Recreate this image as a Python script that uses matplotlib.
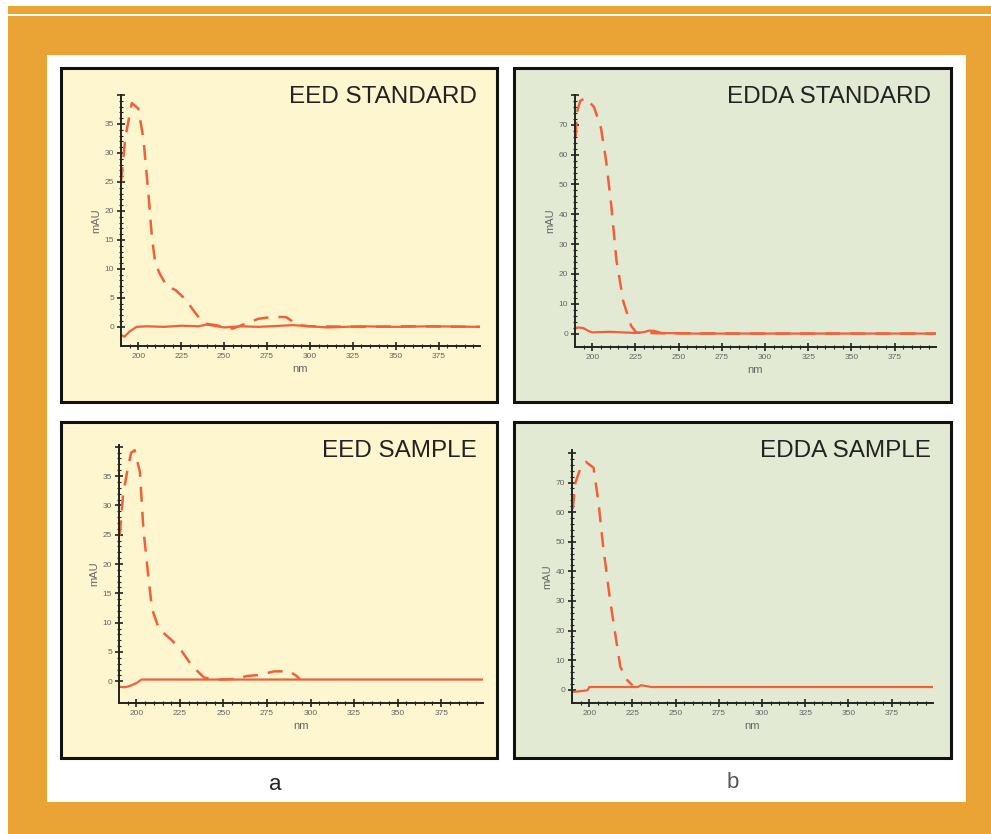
"""Four UV spectra panels (EED / EDDA, standard vs sample) on an orange frame."""

import matplotlib

matplotlib.use("Agg")
import matplotlib.pyplot as plt
from matplotlib.patches import Rectangle

plt.rcParams["font.family"] = ["Liberation Sans", "DejaVu Sans"]

W, H = 991, 834

# ---- data (nm, mAU) ----
eed_std_dash_x = [190, 192.5, 196.3, 200, 203, 206, 208, 210, 212.7, 216.5, 222, 228, 232, 238,
                  245, 255, 263, 270, 278, 286, 293, 300, 330, 360, 399]
eed_std_dash_y = [25, 32.6, 38.6, 37.7, 32.6, 22.9, 15.4, 10.9, 9.1, 7.1, 6.3, 4.6, 2.9, 0.6,
                  0.3, -0.3, 0.6, 1.4, 1.7, 1.7, 0.3, 0.1, 0.0, 0.1, 0.0]
eed_std_line_x = [190, 192, 195, 199, 205, 215, 225, 235, 240, 250, 260, 270, 290, 310, 330, 350,
                  370, 399]
eed_std_line_y = [-1.4, -1.7, -0.8, 0.0, 0.1, 0.0, 0.2, 0.1, 0.4, -0.1, 0.1, 0.0, 0.3, -0.1,
                  0.1, 0.0, 0.1, 0.0]

edda_std_dash_x = [190.4, 191, 193, 196, 201, 205, 208, 211, 214, 218, 222.5, 225.5, 240, 300, 399]
edda_std_dash_y = [66, 74, 78, 79, 76, 69, 58, 43, 24.5, 10.7, 2.6, 0.3, 0.1, 0.0, 0.0]
edda_std_line_x = [190, 193, 195, 198, 200, 210, 225, 230, 233, 236, 240, 260, 399]
edda_std_line_y = [2.0, 2.0, 1.8, 0.8, 0.4, 0.6, 0.2, 0.5, 1.0, 0.9, 0.2, 0.0, 0.0]

eed_smp_dash_x = [190.4, 192.3, 195, 197, 199, 202, 204, 207, 209, 213, 220, 225.4, 232, 239,
                  248, 256, 263.5, 271, 279, 288, 292, 294]
eed_smp_dash_y = [24.9, 31.7, 36.3, 39, 39.4, 35.7, 26, 17.4, 12.3, 8.9, 7.1, 5.4, 2.6, 0.6,
                  0.3, 0.4, 0.9, 1.1, 1.7, 1.7, 0.9, 0.3]
eed_smp_line_x = [190, 192, 194, 197, 200, 203, 230, 399]
eed_smp_line_y = [-0.9, -1.0, -1.0, -0.7, -0.3, 0.3, 0.3, 0.3]

edda_smp_dash_x = [190.4, 192, 195, 198, 202.5, 205.4, 208, 212, 215, 218, 222, 225]
edda_smp_dash_y = [61, 70, 75, 77, 75, 63, 48.6, 30.5, 19, 7.7, 3.2, 1.5]
edda_smp_line_x = [190, 195, 199, 200, 228, 230, 233, 236, 399]
edda_smp_line_y = [-0.8, -0.5, -0.2, 0.9, 0.9, 1.5, 1.2, 0.9, 0.9]

x_ticks = [200, 225, 250, 275, 300, 325, 350, 375]
eed_yticks = [0, 5, 10, 15, 20, 25, 30, 35, 40]
edda_yticks = [0, 10, 20, 30, 40, 50, 60, 70, 80]

titles = ["EED STANDARD", "EDDA STANDARD", "EED SAMPLE", "EDDA SAMPLE"]

ORANGE = "#E9A435"
YELLOW = "#FDF6CF"
GREEN = "#E3EAD3"
RED = "#F0603A"


def fig_rect(fig, x0, y0, x1, y1, **kw):
    """Rectangle given in pixel coords (top-left origin)."""
    r = Rectangle((x0 / W, 1 - y1 / H), (x1 - x0) / W, (y1 - y0) / H,
                  transform=fig.transFigure, **kw)
    fig.patches.append(r)
    return r


def add_axes_px(fig, x0, y0, x1, y1):
    return fig.add_axes([x0 / W, 1 - y1 / H, (x1 - x0) / W, (y1 - y0) / H])


def draw_panel(fig, box, ax_box, face, title, dash, line, ylim, yticks, minor_y):
    fig_rect(fig, *box, facecolor=face, edgecolor="#111111", linewidth=2.2, zorder=-1)
    ax = add_axes_px(fig, *ax_box)
    ax.patch.set_alpha(0)
    ax.plot(line[0], line[1], color=RED, linewidth=1.6)
    ax.plot(dash[0], dash[1], color=RED, linewidth=1.8, dashes=(6, 4))
    ax.set_xlim(190, 399)
    ax.set_ylim(*ylim)
    for s in ("top", "right"):
        ax.spines[s].set_visible(False)
    for s in ("left", "bottom"):
        ax.spines[s].set_linewidth(1.4)
        ax.spines[s].set_color("#222222")
    ax.set_xticks(x_ticks)
    ax.set_yticks(yticks)
    ax.set_yticklabels([str(v) for v in yticks[:-1]] + [""])
    ax.set_xticks(range(195, 399, 5), minor=True)
    ax.set_yticks([v for v in range(0, yticks[-1] + 1, minor_y)], minor=True)
    ax.tick_params(which="major", direction="inout", length=6, width=1.2,
                   labelsize=6, labelcolor="#666666", color="#222222", pad=2)
    ax.tick_params(which="minor", direction="inout", length=2.5, width=0.8, color="#222222")
    ax.set_xlabel("nm", fontsize=8, color="#666666", labelpad=3)
    ax.set_ylabel("mAU", fontsize=8, color="#666666", labelpad=2)
    fig.text((box[2] - 20) / W, 1 - (box[1] + 29) / H, title, ha="right", va="center",
             fontsize=17.5, color="#222222")
    return ax


def main() -> None:
    fig = plt.figure(figsize=(W / 100, H / 100), dpi=100)
    fig.patch.set_facecolor("white")

    # orange frame and top bar
    fig_rect(fig, 8, 6, W, 14, facecolor=ORANGE, edgecolor="none", zorder=-3)
    fig_rect(fig, 8, 16, W, H, facecolor=ORANGE, edgecolor="none", zorder=-3)
    fig_rect(fig, 47, 55, 966, 802, facecolor="white", edgecolor="none", zorder=-2)

    draw_panel(fig, (61, 68, 497, 402), (121, 95, 480, 346), YELLOW, titles[0],
               (eed_std_dash_x, eed_std_dash_y), (eed_std_line_x, eed_std_line_y),
               (-3.3, 40), eed_yticks, 1)
    draw_panel(fig, (514, 68, 951, 402), (575, 95, 936, 347), GREEN, titles[1],
               (edda_std_dash_x, edda_std_dash_y), (edda_std_line_x, edda_std_line_y),
               (-4.5, 80), edda_yticks, 2)
    draw_panel(fig, (61, 422, 497, 758), (119, 445, 483, 703), YELLOW, titles[2],
               (eed_smp_dash_x, eed_smp_dash_y), (eed_smp_line_x, eed_smp_line_y),
               (-3.7, 40.3), eed_yticks, 1)
    draw_panel(fig, (514, 422, 951, 758), (572, 450, 933, 703), GREEN, titles[3],
               (edda_smp_dash_x, edda_smp_dash_y), (edda_smp_line_x, edda_smp_line_y),
               (-4.5, 81), edda_yticks, 2)

    fig.text(275 / W, 1 - 785 / H, "a", ha="center", va="center", fontsize=16, color="#222222")
    fig.text(733 / W, 1 - 783 / H, "b", ha="center", va="center", fontsize=16, color="#555555")

    fig.savefig("out.png", dpi=100)
    plt.close(fig)


if __name__ == "__main__":
    main()
